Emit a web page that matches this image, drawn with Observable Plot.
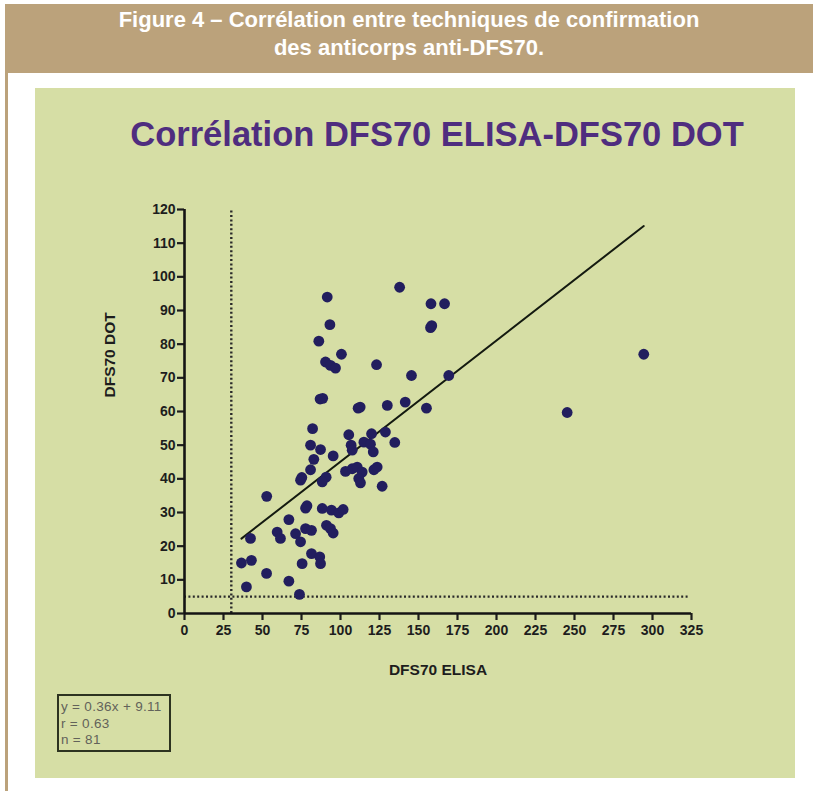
<!DOCTYPE html>
<html>
<head>
<meta charset="utf-8">
<script src="https://cdn.jsdelivr.net/npm/d3@7"></script>
<script src="https://cdn.jsdelivr.net/npm/@observablehq/plot@0.6"></script>
<style>
  body { margin: 0; background: #ffffff; font-family: "Liberation Sans", Arial, sans-serif; }
  #page { position: relative; width: 813px; height: 791px; overflow: hidden; background: #fff; }
  #header { position: absolute; left: 5px; top: 4px; width: 808px; height: 69px; background: #bba27b;
            color: #fff; font-weight: bold; font-size: 22px; text-align: center; line-height: 28px;
            padding-top: 2px; box-sizing: border-box; }
  #border { position: absolute; left: 5px; top: 73px; width: 3px; height: 718px; background: #bba27b; }
  #panel { position: absolute; left: 35px; top: 88px; width: 760px; height: 690px; background: #d6dea5; }
  #title { position: absolute; left: 22px; width: 100%; top: 27px; text-align: center; color: #4f2d7f;
           font-size: 34.5px; font-weight: bold; }
  #chart { position: absolute; left: 0; top: 0; }
  #stats { position: absolute; left: 22px; top: 606px; width: 114px; height: 58px; box-sizing: border-box;
           border: 2px solid #2d3320; color: #62625a; font-size: 13.5px; line-height: 16.5px;
           padding: 3px 0 0 2px; letter-spacing: 0.3px; white-space: nowrap; }
</style>
</head>
<body>
<div id="page">
  <div id="header">Figure 4 – Corrélation entre techniques de confirmation<br>des anticorps anti-DFS70.</div>
  <div id="border"></div>
  <div id="panel">
    <div id="title">Corrélation DFS70 ELISA-DFS70 DOT</div>
    <div id="chart"></div>
    <div id="stats"></div>
  </div>
</div>
<script>
// DFS70 ELISA (x) values
const elisa = [36.5, 42.9, 42.3, 39.7, 52.6, 52.7, 59.4, 61.5, 66.9, 66.9,
               71.2, 74.4, 73.7, 75.4, 77.6, 81.4, 77.6, 78.5, 74.4, 75.2,
               81.4, 86.7, 87.2, 88.3, 94.2, 98.9, 101.7, 91.0, 93.6, 95.3,
               80.8, 87.2, 82.9, 80.8, 95.3, 82.1, 86.9, 90.8, 88.3, 91.5,
               93.2, 86.1, 100.6, 90.4, 93.6, 96.8, 123.1, 111.3, 130.0, 141.5,
               155.1, 137.9, 158.0, 166.7, 157.7, 158.5, 169.4, 145.5, 245.3, 294.4,
               105.3, 106.8, 107.5, 115.0, 119.9, 119.2, 121.0, 128.8, 134.8, 103.2,
               107.5, 110.7, 113.9, 111.7, 112.8, 121.4, 123.5, 126.7, 88.6, 112.6];
// DFS70 DOT (y) values
const dot = [15.0, 15.8, 22.3, 7.9, 11.9, 34.8, 24.2, 22.3, 27.9, 9.6,
             23.7, 21.3, 5.7, 14.8, 25.2, 24.7, 31.3, 32.0, 39.6, 40.4,
             17.8, 16.8, 14.8, 31.2, 30.7, 29.9, 30.9, 26.2, 25.2, 23.9,
             50.0, 48.7, 45.8, 42.7, 46.8, 54.9, 63.7, 40.5, 39.1, 94.0,
             85.8, 80.9, 77.0, 74.7, 73.7, 72.9, 73.9, 61.0, 61.8, 62.8,
             61.0, 96.9, 92.0, 92.0, 84.9, 85.5, 70.7, 70.7, 59.7, 77.0,
             53.1, 50.0, 48.5, 50.9, 53.4, 50.3, 48.0, 53.9, 50.8, 42.2,
             43.0, 43.5, 42.0, 40.1, 38.8, 42.7, 43.5, 37.8, 63.9, 61.3];
// Axis ticks
const xTicks = [0, 25, 50, 75, 100, 125, 150, 175, 200, 225, 250, 275, 300, 325];
const yTicks = [0, 10, 20, 30, 40, 50, 60, 70, 80, 90, 100, 110, 120];
// Cut-off lines
const elisaCut = [30];
const dotCut = [5];
// Regression statistics (from the legend box)
const slope = 0.36;
const intercept = 9.11;
const rValue = 0.63;
const nValue = 81;
const statLines = [`y = ${slope}x + ${intercept}`, `r = ${rValue}`, `n = ${nValue}`];
const xLabel = "DFS70 ELISA";
const yLabel = "DFS70 DOT";

const points = elisa.map((x, i) => ({x, y: dot[i]}));
const fit = d3.extent(elisa).map(x => ({x, y: slope * x + intercept}));
const font = "'Liberation Sans', Arial, sans-serif";

const chart = Plot.plot({
  width: 760, height: 690,
  marginLeft: 149, marginRight: 104, marginTop: 121, marginBottom: 165,
  style: {background: "transparent", fontFamily: font, color: "#1d1d1d", overflow: "visible"},
  x: {domain: [0, 325]},
  y: {domain: [0, 120]},
  marks: [
    Plot.ruleX(elisaCut, {y1: 0, y2: 120, stroke: "#2a2a2a", strokeWidth: 2.4, strokeDasharray: "2,2.4"}),
    Plot.ruleY(dotCut, {x1: 0, x2: 324, stroke: "#2a2a2a", strokeWidth: 2.4, strokeDasharray: "2,2.4"}),
    Plot.line(fit, {x: "x", y: "y", stroke: "#141a10", strokeWidth: 2}),
    Plot.dot(points, {x: "x", y: "y", r: 5.4, fill: "#221e5e", stroke: "none"}),
    Plot.axisX({ticks: xTicks, tickSize: 7, tickPadding: 5, strokeWidth: 2.2, fontSize: 14, fontWeight: "bold", label: null, tickFormat: d => String(d)}),
    Plot.axisY({ticks: yTicks, tickSize: 7, tickPadding: 2, strokeWidth: 2.2, fontSize: 14, fontWeight: "bold", label: null, tickFormat: d => String(d)}),
    Plot.ruleX([0], {stroke: "#141414", strokeWidth: 2.6}),
    Plot.ruleY([0], {stroke: "#141414", strokeWidth: 2.6}),
    Plot.text([xLabel], {frameAnchor: "bottom", dy: 61, fontSize: 15.5, fontWeight: "bold", fill: "#1d1d1d"}),
    Plot.text([yLabel], {frameAnchor: "left", dx: -74, dy: -14, rotate: -90, fontSize: 15.5, fontWeight: "bold", fill: "#1d1d1d"})
  ]
});
document.getElementById("chart").appendChild(chart);
document.getElementById("stats").innerHTML = statLines.join("<br>");
</script>
</body>
</html>
